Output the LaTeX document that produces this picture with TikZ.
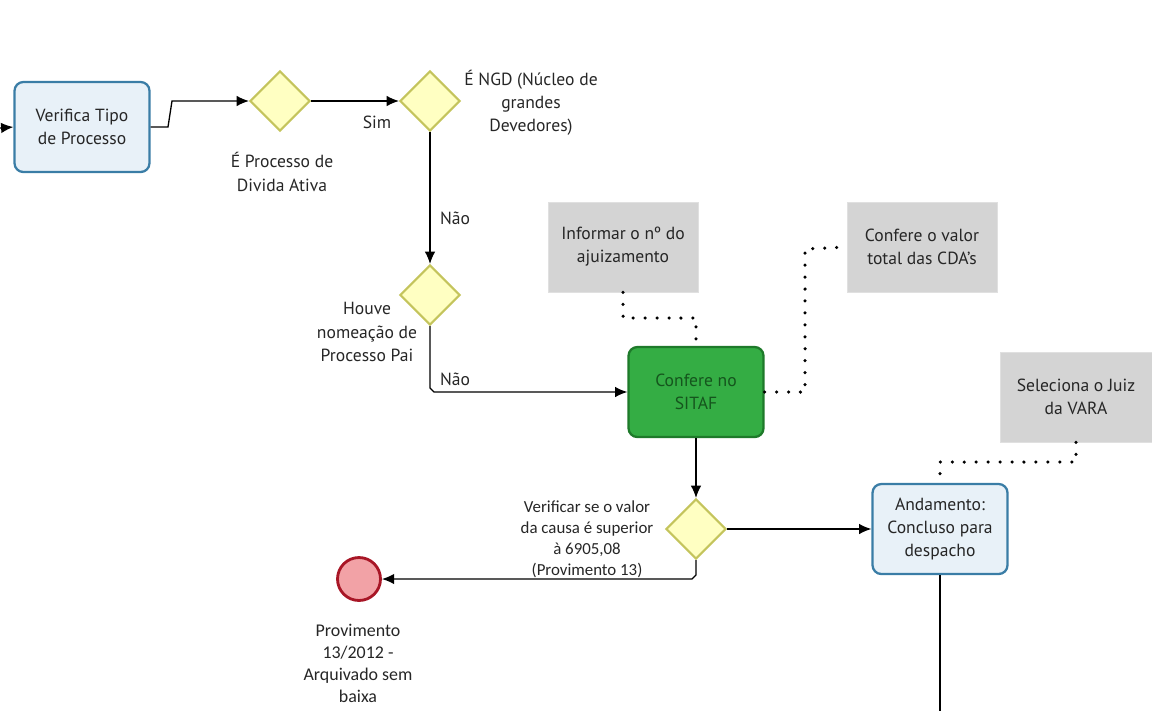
\documentclass[tikz,border=0pt]{standalone}
\usepackage{fontspec}
\setmainfont{PT Sans}
\newfontfamily\narrowfont{Carlito}
\usetikzlibrary{shapes.geometric,arrows.meta}

\definecolor{taskfill}{HTML}{E8F1F8}
\definecolor{taskline}{HTML}{3A7DA6}
\definecolor{gatefill}{HTML}{FFFFC2}
\definecolor{gateline}{HTML}{C4C45C}
\definecolor{notefill}{HTML}{D4D4D4}
\definecolor{sitaffill}{HTML}{34AD44}
\definecolor{sitafline}{HTML}{1E7A2A}
\definecolor{endfill}{HTML}{F2A2A6}
\definecolor{endline}{HTML}{A81626}

\begin{document}
\begin{tikzpicture}[x=0.02cm, y=-0.02cm, font=\fontsize{10}{13.2}\selectfont, text=black!85,
	task/.style={draw=taskline, fill=taskfill, line width=1.3pt, rounded corners=5pt, minimum width=2.7cm, minimum height=1.8cm, align=center},
	gate/.style={diamond, draw=gateline, fill=gatefill, line width=1.2pt, minimum width=1.2cm, minimum height=1.2cm, inner sep=0pt},
	note/.style={fill=notefill, draw=black!12, minimum width=3cm, minimum height=1.8cm, align=center},
	flow/.style={-{Latex[length=7pt,width=6pt]}, line width=0.75pt},
	assoc/.style={line width=2pt, line cap=round, dash pattern=on 0pt off 6.8pt},
	narrow/.style={font=\narrowfont\fontsize{9.6}{12}\selectfont}]
	\useasboundingbox (0,0) rectangle (1152,711);
	% tasks and gateways
	\node[task] (verifica) at (82,127) {Verifica Tipo\\de Processo};
	\node[gate] (divida) at (280,101) {};
	\node[gate] (ngd) at (430,101) {};
	\node[gate] (pai) at (430,295) {};
	\node[task, fill=sitaffill, draw=sitafline, text=sitafline!70!black] (sitaf) at (696,392) {Confere no\\SITAF};
	\node[gate] (valor) at (696,529) {};
	\node[task] (andamento) at (940,529) {Andamento:\\Concluso para\\despacho};
	\node[circle, draw=endline, fill=endfill, line width=1.6pt, minimum size=0.86cm] (fim) at (359,579) {};
	% annotations
	\node[note] (ajuiz) at (623,247) {Informar o nº do\\ajuizamento};
	\node[note] (cda) at (922,247) {Confere o valor\\total das CDA's};
	\node[note, minimum width=3.04cm] (juiz) at (1076,397) {Seleciona o Juiz\\da VARA};
	% labels
	\node (lsim) at (377,122) {Sim};
	\node[align=center] (lngd) at (531,103) {É NGD (Núcleo de\\grandes\\Devedores)};
	\node[align=center] (ldivida) at (282,172) {É Processo de\\Divida Ativa};
	\node (lnao1) at (455,218) {Não};
	\node[align=center] (lpai) at (367,332) {Houve\\nomeação de\\Processo Pai};
	\node (lnao2) at (455,379) {Não};
	\node[align=center, narrow] (lvalor) at (587,539) {Verificar se o valor\\da causa é superior\\à 6905,08\\(Provimento 13)};
	\node[align=center, narrow, font=\narrowfont\fontsize{10.2}{12.5}\selectfont] (lfim) at (358,663) {Provimento\\13/2012 -\\Arquivado sem\\baixa};
	% flows
	\coordinate (entrada) at (0,128);
	\coordinate (saida) at (940,711);
	\draw[flow] (entrada) -- (verifica.west);
	\draw[flow] (verifica.east) -- (168,127) -- (172,101) -- (divida.west);
	\draw[flow] (divida.east) -- (ngd.west);
	\draw[flow] (ngd.south) -- (pai.north);
	\draw[flow] (pai.south) -- (430,388) -- (434,392) -- (sitaf.west);
	\draw[flow] (sitaf.south) -- (valor.north);
	\draw[flow] (valor.east) -- (andamento.west);
	\draw[flow] (valor.south) -- (696,575) -- (692,579) -- (fim.east);
	\draw[line width=0.75pt] (andamento.south) -- (saida);
	%%\draw[assoc] (ajuiz.south) -- (sitaf.north);
	\draw[assoc] (ajuiz.south) -- (623,318) -- (696,318) -- (sitaf.north);
	\draw[assoc] (sitaf.east) -- (805,392) -- (805,249) -- (cda.west);
	\draw[assoc] (juiz.south) -- (1076,462) -- (940,462) -- (andamento.north);
\end{tikzpicture}
\end{document}
